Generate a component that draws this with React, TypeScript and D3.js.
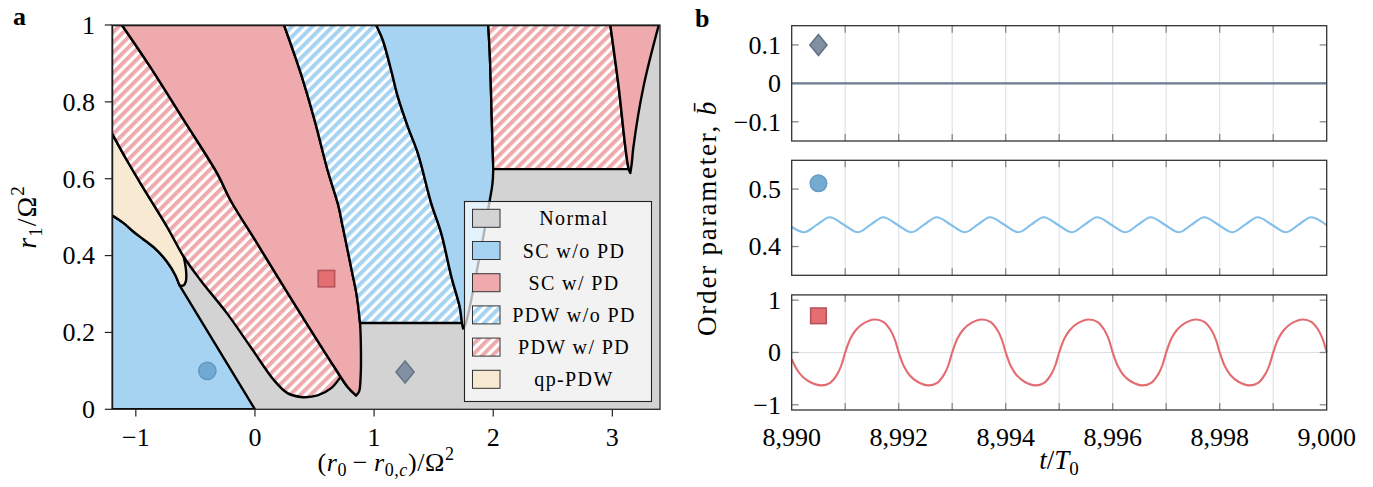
import React from 'react';
import * as d3 from 'd3';

type P = [number, number];

const FONT = "'Liberation Serif', 'Times New Roman', serif";

// ---------- Panel a : phase diagram ----------
const xTicksA = [-1, 0, 1, 2, 3];
const xTickLabelsA = ['\u22121', '0', '1', '2', '3'];
const yTicksA = [0, 0.2, 0.4, 0.6, 0.8, 1];
const yTickLabelsA = ['0', '0.2', '0.4', '0.6', '0.8', '1'];

// phase boundaries, in (r0-r0c)/Ω², r1/Ω² units
const blueLeftTop: P[] = [[-1.2, 0.505], [-1.104, 0.485], [-1.019, 0.462], [-0.935, 0.442], [-0.837, 0.418], [-0.738, 0.384], [-0.668, 0.349], [-0.634, 0.323]];
const blueLeftDiag: P[] = [[-0.634, 0.323], [0, 0]];
const qpTop: P[] = [[-1.2, 0.718], [-1.075, 0.648], [-0.935, 0.575], [-0.738, 0.475], [-0.598, 0.397]];
const qpFinger: P[] = [[-0.598, 0.397], [-0.578, 0.36], [-0.58, 0.333], [-0.6, 0.322], [-0.634, 0.323]];
const pdwLowerRest: P[] = [[-0.598, 0.397], [-0.457, 0.336], [-0.233, 0.249], [-0.036, 0.162], [0.16, 0.0755], [0.273, 0.042], [0.385, 0.032], [0.526, 0.036], [0.64, 0.055], [0.72, 0.085]];
const scLeft: P[] = [[-1.117, 1], [-0.879, 0.891], [-0.598, 0.753], [-0.317, 0.614], [-0.205, 0.544], [0.02, 0.431], [0.244, 0.318], [0.469, 0.206], [0.666, 0.11], [0.778, 0.058], [0.848, 0.036]];
const scRightLower: P[] = [[0.848, 0.036], [0.874, 0.046], [0.887, 0.085], [0.89, 0.14], [0.882, 0.2247]];
const scRightUpper: P[] = [[0.882, 0.2247], [0.852, 0.301], [0.815, 0.357], [0.778, 0.414], [0.735, 0.478], [0.7, 0.53], [0.61, 0.622], [0.5, 0.753], [0.385, 0.874], [0.244, 1]];
const pdwBlueTop: P[] = [[0.244, 1], [1.017, 1]];
const blueMidLeft: P[] = [[1.017, 1], [1.073, 0.961], [1.143, 0.883], [1.2, 0.813], [1.284, 0.735], [1.368, 0.666], [1.48, 0.536], [1.564, 0.458], [1.649, 0.345], [1.719, 0.266], [1.738, 0.2247], [1.747, 0.21]];
const blueMidRight: P[] = [[1.747, 0.21], [1.768, 0.222], [1.874, 0.379], [1.971, 0.544], [1.993, 0.585], [2.0, 0.625], [1.993, 0.7], [1.984, 0.8], [1.971, 0.926], [1.958, 1]];
const pdwPinkRightTop: P[] = [[1.958, 1], [2.983, 1]];
const pdwPinkRightBottom: P[] = [[3.137, 0.625], [2.0, 0.625]];
const rightTriLeft: P[] = [[2.983, 1], [3.053, 0.839], [3.109, 0.683], [3.137, 0.625], [3.151, 0.615]];
const rightTriRight: P[] = [[3.151, 0.615], [3.163, 0.64], [3.177, 0.683], [3.261, 0.839], [3.39, 1]];

const legendLabels = ['Normal', 'SC w/o PD', 'SC w/ PD', 'PDW w/o PD', 'PDW w/ PD', 'qp-PDW'];
const legendKinds = ['normal', 'blue', 'pink', 'hblue', 'hpink', 'beige'];

const markersA: { kind: string; x: number; y: number }[] = [
  { kind: 'circle', x: -0.4, y: 0.1 },
  { kind: 'square', x: 0.6, y: 0.34 },
  { kind: 'diamond', x: 1.26, y: 0.097 },
];

// ---------- Panel b : time traces ----------
const tTicks = [8990, 8991, 8992, 8993, 8994, 8995, 8996, 8997, 8998, 8999, 9000];
const tLabelTicks = [8990, 8992, 8994, 8996, 8998, 9000];

const normalSeries: P[] = [[8990, 0], [9000, 0]];
const scSeries: P[] = [
  [8990, 0.434],
  [8990.24, 0.425], [8990.475, 0.438], [8990.71, 0.451], [8990.975, 0.438],
  [8991.24, 0.425], [8991.475, 0.438], [8991.71, 0.451], [8991.975, 0.438],
  [8992.24, 0.425], [8992.475, 0.438], [8992.71, 0.451], [8992.975, 0.438],
  [8993.24, 0.425], [8993.475, 0.438], [8993.71, 0.451], [8993.975, 0.438],
  [8994.24, 0.425], [8994.475, 0.438], [8994.71, 0.451], [8994.975, 0.438],
  [8995.24, 0.425], [8995.475, 0.438], [8995.71, 0.451], [8995.975, 0.438],
  [8996.24, 0.425], [8996.475, 0.438], [8996.71, 0.451], [8996.975, 0.438],
  [8997.24, 0.425], [8997.475, 0.438], [8997.71, 0.451], [8997.975, 0.438],
  [8998.24, 0.425], [8998.475, 0.438], [8998.71, 0.451], [8998.975, 0.438],
  [8999.24, 0.425], [8999.475, 0.438], [8999.71, 0.451],
  [9000, 0.437],
];
const pdSeries: P[] = [
  [8990, -0.13], [8990.1, -0.33], [8990.2, -0.46], [8990.35, -0.57], [8990.56, -0.63], [8990.72, -0.58], [8990.85, -0.42], [8990.93, -0.24],
  [8991, 0], [8991.1, 0.27], [8991.2, 0.43], [8991.35, 0.56], [8991.55, 0.63], [8991.72, 0.58], [8991.85, 0.42], [8991.93, 0.24],
  [8992, 0], [8992.1, -0.27], [8992.2, -0.43], [8992.35, -0.56], [8992.55, -0.63], [8992.72, -0.58], [8992.85, -0.42], [8992.93, -0.24],
  [8993, 0], [8993.1, 0.27], [8993.2, 0.43], [8993.35, 0.56], [8993.55, 0.63], [8993.72, 0.58], [8993.85, 0.42], [8993.93, 0.24],
  [8994, 0], [8994.1, -0.27], [8994.2, -0.43], [8994.35, -0.56], [8994.55, -0.63], [8994.72, -0.58], [8994.85, -0.42], [8994.93, -0.24],
  [8995, 0], [8995.1, 0.27], [8995.2, 0.43], [8995.35, 0.56], [8995.55, 0.63], [8995.72, 0.58], [8995.85, 0.42], [8995.93, 0.24],
  [8996, 0], [8996.1, -0.27], [8996.2, -0.43], [8996.35, -0.56], [8996.55, -0.63], [8996.72, -0.58], [8996.85, -0.42], [8996.93, -0.24],
  [8997, 0], [8997.1, 0.27], [8997.2, 0.43], [8997.35, 0.56], [8997.55, 0.63], [8997.72, 0.58], [8997.85, 0.42], [8997.93, 0.24],
  [8998, 0], [8998.1, -0.27], [8998.2, -0.43], [8998.35, -0.56], [8998.55, -0.63], [8998.72, -0.58], [8998.85, -0.42], [8998.93, -0.24],
  [8999, 0], [8999.1, 0.27], [8999.2, 0.43], [8999.35, 0.56], [8999.55, 0.63], [8999.72, 0.58], [8999.85, 0.42], [8999.93, 0.24],
  [9000, 0],
];

const subDomains: P[] = [[-0.15, 0.15], [0.35, 0.55], [-1.1, 1.1]];
const subYTicks = [[0.1, 0, -0.1], [0.5, 0.4], [1, 0, -1]];
const subYLabels = [['0.1', '0', '\u22120.1'], ['0.5', '0.4'], ['1', '0', '\u22121']];
const subMarkers: { kind: string; t: number; v: number }[] = [
  { kind: 'diamond', t: 8990.5, v: 0.1 },
  { kind: 'circle', t: 8990.5, v: 0.51 },
  { kind: 'square', t: 8990.5, v: 0.7 },
];

// ---------- styles ----------
const GRAY = '#d3d3d3';
const BLUE = '#a6d3f1';
const PINK = '#eeaaad';
const BEIGE = '#f8e9d2';
const LINE_COLORS = ['#6b7c8f', '#82c0ea', '#e46c71'];

function Marker({ kind, cx, cy, s = 1 }: { kind: string; cx: number; cy: number; s?: number }) {
  if (kind === 'circle') {
    return <circle cx={cx} cy={cy} r={8.7 * s} fill="#6fa7cf" stroke="#5d96c2" strokeWidth={1.5} opacity={0.95} />;
  }
  if (kind === 'square') {
    const h = 8.2 * s;
    return <rect x={cx - h} y={cy - h} width={2 * h} height={2 * h} fill="#e46e71" stroke="#b5545a" strokeWidth={1.6} />;
  }
  const w = 9 * s, h = 11 * s;
  return <path d={`M${cx},${cy - h}L${cx + w},${cy}L${cx},${cy + h}L${cx - w},${cy}Z`} fill="#8291a2" stroke="#657487" strokeWidth={1.6} />;
}

export default function App() {
  const sx = d3.scaleLinear().domain([-1.2, 3.4]).range([112, 660]);
  const sy = d3.scaleLinear().domain([0, 1]).range([409.3, 25]);

  const build = (segs: [P[], boolean][]) => {
    let d = '';
    segs.forEach(([pts, smooth], i) => {
      const gen = d3.line<P>().x(p => sx(p[0])).y(p => sy(p[1]))
        .curve(smooth ? d3.curveCatmullRom.alpha(0.5) : d3.curveLinear);
      const s = gen(pts) || '';
      d += i === 0 ? s : 'L' + s.slice(1);
    });
    return d + 'Z';
  };
  const rev = (a: P[]) => a.slice().reverse();
  const pdwLower = [...qpTop, ...pdwLowerRest.slice(1)];
  const scRight = [...scRightLower, ...scRightUpper.slice(1)];

  const regions: { d: string; fill: string }[] = [
    { d: build([[[[-1.2, 0], [-1.2, 0.505]], false], [blueLeftTop, true], [blueLeftDiag, false]]), fill: BLUE },
    { d: build([[[[-1.2, 0.505], [-1.2, 0.718]], false], [qpTop, true], [qpFinger, true], [rev(blueLeftTop), true]]), fill: BEIGE },
    { d: build([[[[-1.2, 0.718], [-1.2, 1], [-1.117, 1]], false], [scLeft, true], [rev(pdwLower), true]]), fill: 'url(#hatchPink)' },
    { d: build([[scLeft, true], [scRight, true]]), fill: PINK },
    { d: build([[scRightUpper, true], [pdwBlueTop, false], [blueMidLeft.slice(0, 11), true]]), fill: 'url(#hatchBlue)' },
    { d: build([[blueMidLeft, true], [blueMidRight, true]]), fill: BLUE },
    { d: build([[pdwPinkRightTop, false], [rightTriLeft.slice(0, 4), true], [pdwPinkRightBottom, false], [blueMidRight.slice(5), true]]), fill: 'url(#hatchPink)' },
    { d: build([[rightTriLeft, true], [rightTriRight, true]]), fill: PINK },
  ];

  const legendFill = (k: string) =>
    k === 'normal' ? GRAY : k === 'blue' ? BLUE : k === 'pink' ? PINK : k === 'hblue' ? 'url(#hatchBlue)' : k === 'hpink' ? 'url(#hatchPink)' : BEIGE;

  // panel b
  const sxB = d3.scaleLinear().domain([8990, 9000]).range([791.7, 1326.7]);
  const subY: P[] = [[25.7, 141], [160.3, 275.3], [294.9, 410]];
  const series = [normalSeries, scSeries, pdSeries];

  const tickFont = 26;
  const HP = 7.2; // hatch tile
  const HS = 4.0; // coloured stripe width

  return (
    <svg width={1373} height={487} style={{ position: 'absolute', left: 0, top: 0, background: '#fff' }} fontFamily={FONT}>
      <defs>
        <pattern id="hatchPink" patternUnits="userSpaceOnUse" width={HP} height={HP} patternTransform="rotate(45)">
          <rect width={HP} height={HP} fill="#fff" />
          <rect width={HS} height={HP} fill={PINK} />
        </pattern>
        <pattern id="hatchBlue" patternUnits="userSpaceOnUse" width={HP} height={HP} patternTransform="rotate(45)">
          <rect width={HP} height={HP} fill="#fff" />
          <rect width={HS} height={HP} fill={BLUE} />
        </pattern>
        <clipPath id="clipA">
          <rect x={112} y={25} width={548} height={384.3} />
        </clipPath>
      </defs>

      {/* ---------- panel a ---------- */}
      <text x={13} y={25} fontSize={26} fontWeight="bold">a</text>
      <g clipPath="url(#clipA)">
        <rect x={112} y={25} width={548} height={384.3} fill={GRAY} />
        {regions.map((r, i) => (
          <path key={i} d={r.d} fill={r.fill} stroke="#000" strokeWidth={2.4} strokeLinejoin="round" />
        ))}
        {markersA.map((m, i) => (
          <Marker key={i} kind={m.kind} cx={sx(m.x)} cy={sy(m.y)} />
        ))}
      </g>
      <rect x={112} y={25} width={548} height={384.3} fill="none" stroke="#2a2a2a" strokeWidth={1.3} />
      {xTicksA.map((v, i) => (
        <g key={i}>
          <line x1={sx(v)} x2={sx(v)} y1={409.3} y2={416.5} stroke="#222" strokeWidth={1.2} />
          <text x={sx(v)} y={446} textAnchor="middle" fontSize={tickFont}>{xTickLabelsA[i]}</text>
        </g>
      ))}
      {yTicksA.map((v, i) => (
        <g key={i}>
          <line x1={104.8} x2={112} y1={sy(v)} y2={sy(v)} stroke="#222" strokeWidth={1.2} />
          <text x={95} y={sy(v) + 8.8} textAnchor="end" fontSize={tickFont}>{yTickLabelsA[i]}</text>
        </g>
      ))}
      <text x={386} y={471} textAnchor="middle" fontSize={26} letterSpacing={0.6}>
        (<tspan fontStyle="italic">r</tspan><tspan fontSize={18} dy={5}>0</tspan><tspan dy={-5}>{'\u2009\u2212\u2009'}</tspan><tspan fontStyle="italic">r</tspan><tspan fontSize={18} dy={5}>0,</tspan><tspan fontSize={18} fontStyle="italic">c</tspan><tspan dy={-5}>)/Ω</tspan><tspan fontSize={18} dy={-11}>2</tspan>
      </text>
      <text transform="translate(36,217) rotate(-90)" textAnchor="middle" fontSize={28} letterSpacing={1}>
        <tspan fontStyle="italic">r</tspan><tspan fontSize={19} dy={6}>1</tspan><tspan dy={-6}>/Ω</tspan><tspan fontSize={19} dy={-12}>2</tspan>
      </text>

      {/* legend */}
      <g>
        <rect x={464.5} y={201.5} width={187} height={200} fill="#fff" fillOpacity={0.7} stroke="#222" strokeWidth={1.1} />
        {legendLabels.map((lab, i) => {
          const cy = 218.3 + i * 32.2;
          return (
            <g key={i}>
              <rect x={472.5} y={cy - 9} width={27.5} height={18} fill={legendFill(legendKinds[i])} stroke="#333" strokeWidth={1} />
              <text x={574} y={cy + 7} textAnchor="middle" fontSize={20} letterSpacing={1.4}>{lab}</text>
            </g>
          );
        })}
      </g>

      {/* ---------- panel b ---------- */}
      <text x={695} y={27} fontSize={26} fontWeight="bold">b</text>
      {subY.map(([top, bot], k) => {
        const syB = d3.scaleLinear().domain(subDomains[k]).range([bot, top]);
        const line = d3.line<P>().x(p => sxB(p[0])).y(p => syB(p[1])).curve(d3.curveCatmullRom.alpha(0.5));
        const hasZero = subDomains[k][0] < 0 && subDomains[k][1] > 0;
        const m = subMarkers[k];
        return (
          <g key={k}>
            <rect x={791.7} y={top} width={535} height={bot - top} fill="#fff" />
            {tTicks.slice(1, -1).map(t => (
              <line key={t} x1={sxB(t)} x2={sxB(t)} y1={top} y2={bot} stroke="#dde1e7" strokeWidth={1.1} />
            ))}
            {hasZero && <line x1={791.7} x2={1326.7} y1={syB(0)} y2={syB(0)} stroke="#dde1e7" strokeWidth={1.1} />}
            {tTicks.slice(1, -1).map(t => (
              <g key={'t' + t}>
                <line x1={sxB(t)} x2={sxB(t)} y1={top} y2={top + 7} stroke="#888" strokeWidth={1.3} />
                <line x1={sxB(t)} x2={sxB(t)} y1={bot} y2={bot - 7} stroke="#888" strokeWidth={1.3} />
              </g>
            ))}
            {subYTicks[k].map((v, i) => (
              <g key={'y' + i}>
                <line x1={791.7} x2={798.7} y1={syB(v)} y2={syB(v)} stroke="#888" strokeWidth={1.3} />
                <line x1={1326.7} x2={1319.7} y1={syB(v)} y2={syB(v)} stroke="#888" strokeWidth={1.3} />
                <text x={781} y={syB(v) + 8.8} textAnchor="end" fontSize={tickFont}>{subYLabels[k][i]}</text>
              </g>
            ))}
            <path d={line(series[k]) || ''} fill="none" stroke={LINE_COLORS[k]} strokeWidth={k === 0 ? 2.4 : 2.1} />
            <Marker kind={m.kind} cx={sxB(m.t)} cy={syB(m.v)} s={0.95} />
            <rect x={791.7} y={top} width={535} height={bot - top} fill="none" stroke="#333" strokeWidth={1.3} />
          </g>
        );
      })}
      {tLabelTicks.map(t => (
        <text key={t} x={sxB(t)} y={446} textAnchor="middle" fontSize={tickFont}>{d3.format(',')(t)}</text>
      ))}
      <text x={1059} y={469} textAnchor="middle" fontSize={27}>
        <tspan fontStyle="italic">t</tspan>/<tspan fontStyle="italic">T</tspan><tspan fontSize={19} dy={6}>0</tspan>
      </text>
      <text transform="translate(716,218) rotate(-90)" textAnchor="middle" fontSize={27} letterSpacing={1.8}>
        Order parameter, <tspan fontStyle="italic">b{'\u0304'}</tspan>
      </text>
    </svg>
  );
}
